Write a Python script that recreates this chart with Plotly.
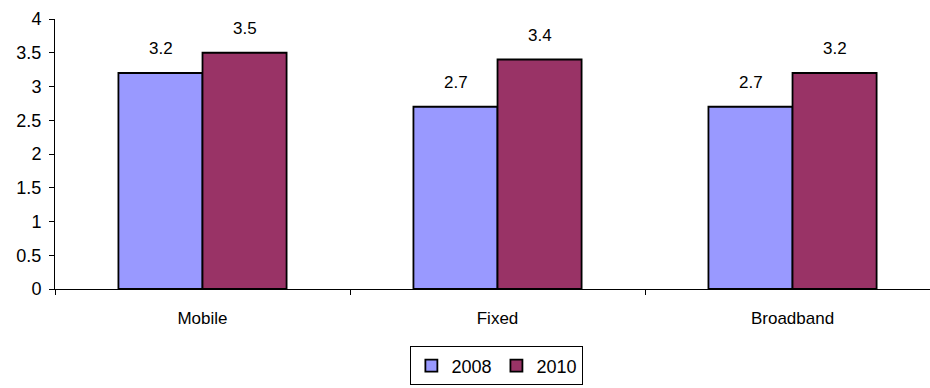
import plotly.graph_objects as go

categories = ["Mobile", "Fixed", "Broadband"]
series_names = ["2008", "2010"]
values_2008 = [3.2, 2.7, 2.7]
values_2010 = [3.5, 3.4, 3.2]
y_ticks = [0, 0.5, 1, 1.5, 2, 2.5, 3, 3.5, 4]
y_tick_labels = ["0", "0.5", "1", "1.5", "2", "2.5", "3", "3.5", "4"]

colors = ["#9999FF", "#993366"]
FONT = "Liberation Sans, Arial, sans-serif"

fig = go.Figure()
for name, vals, col in zip(series_names, [values_2008, values_2010], colors):
    fig.add_trace(go.Bar(
        x=categories, y=vals, name=name,
        marker=dict(color=col, line=dict(color="#000000", width=1.8)),
    ))

# data labels above bars
bar_px = 84
for i, vals in enumerate([values_2008, values_2010]):
    shift = (-bar_px / 2) if i == 0 else (bar_px / 2)
    for c, v in zip(categories, vals):
        fig.add_annotation(
            x=c, y=v, text=f"{v:g}", showarrow=False,
            xshift=shift, yshift=13, yanchor="bottom",
            font=dict(family=FONT, size=17, color="#000000"),
        )

fig.update_layout(
    width=930, height=388,
    margin=dict(l=55, r=0, t=19, b=99),
    paper_bgcolor="white", plot_bgcolor="white",
    barmode="group", bargap=0.43, bargroupgap=0,
    font=dict(family=FONT, size=17, color="#000000"),
    showlegend=True,
    legend=dict(
        orientation="h", x=0.505, xanchor="center", y=-0.285, yanchor="middle",
        bordercolor="#000000", borderwidth=1, bgcolor="white",
        font=dict(family=FONT, size=18, color="#000000"),
        itemwidth=30, tracegroupgap=0,
    ),
)
fig.update_xaxes(
    type="category", range=[-0.5, 2.466],
    showline=True, linecolor="#000000", linewidth=1,
    ticks="outside", tickson="boundaries", ticklen=5, tickcolor="#000000",
    showgrid=False, tickfont=dict(family=FONT, size=17), ticklabelstandoff=14,
)
fig.update_yaxes(
    range=[0, 4], tickvals=y_ticks, ticktext=y_tick_labels,
    showline=True, linecolor="#000000", linewidth=1,
    ticks="outside", ticklen=5, tickcolor="#000000", ticklabelstandoff=4,
    showgrid=False, zeroline=False, tickfont=dict(family=FONT, size=18),
)

fig.write_html("out.html")
